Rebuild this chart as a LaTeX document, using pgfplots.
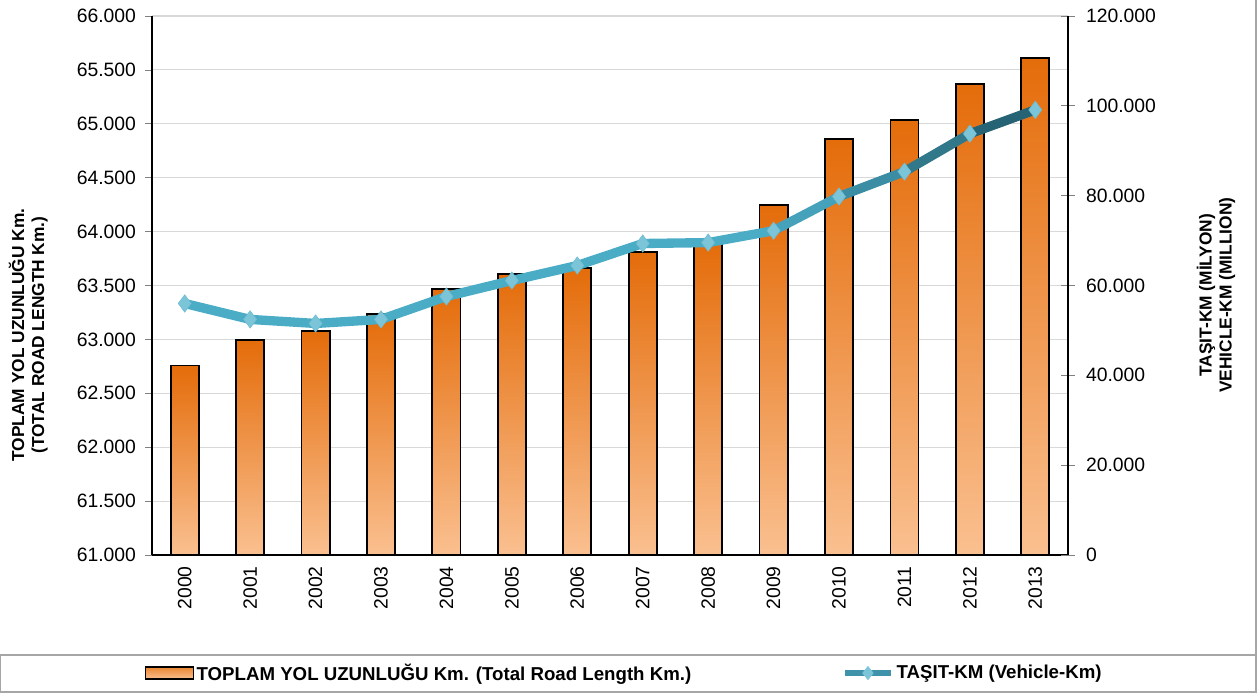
\documentclass[border=0pt]{standalone}
\usepackage{pgfplots}
\usepackage{pgfplotstable}
\pgfplotsset{compat=1.18}
\usepackage{fontspec}
\setmainfont{Liberation Sans}
\definecolor{barTop}{HTML}{E46C0A}
\definecolor{barBot}{HTML}{FAC090}
\definecolor{lineLight}{HTML}{4BACC6}
\definecolor{lineDark}{HTML}{215968}
\definecolor{markFill}{HTML}{7CC4D8}
\definecolor{gridc}{HTML}{D9D9D9}

% total road length (km)
\pgfplotstableread{
x len
0 62758
1 62994
2 63078
3 63236
4 63468
5 63607
6 63662
7 63811
8 63904
9 64247
10 64859
11 65035
12 65369
13 65610
}\roadtable

% vehicle-km (million)
\pgfplotstableread{
x vkm
0 56000
1 52450
2 51550
3 52450
4 57550
5 61100
6 64450
7 69350
8 69550
9 72200
10 79800
11 85350
12 93800
13 99100
}\vkmtable

\begin{document}
\begin{tikzpicture}
\useasboundingbox (0,0) rectangle (945pt,-523.5pt);
% legend frame and right border
\draw[gray!70, line width=1.1pt] (0,-491.25pt) rectangle (942pt,-519pt);
\draw[gray!70, line width=1.1pt] (942pt,0) -- (942pt,-491.25pt);

\pgfplotsset{
  every axis/.append style={
    at={(114pt,-416.25pt)}, anchor=south west,
    width=687pt, height=404.25pt, scale only axis,
    xmin=-0.5, xmax=13.5,
    tick label style={font=\fontsize{14.5}{16}\selectfont},
    /pgf/number format/assume math mode=true,
    /pgf/number format/1000 sep={.},
    scaled y ticks=false,
  }
}

% road length axis counts from 61.000 km, so bars start at the axis floor
\begin{axis}[
  axis x line*=bottom, axis y line*=left,
  axis line style={black, line width=0.8pt},
  ymin=0, ymax=5000, ytick distance=500,
  yticklabel={\pgfkeys{/pgf/fpu=true}\pgfmathparse{\tick+61000}%
    \pgfmathprintnumber[fixed,precision=0]{\pgfmathresult}},
  yticklabel style={xshift=-3.5pt},
  ytick style={gray, line width=0.6pt}, tick align=outside,
  major tick length=5pt,
  xtick={0,...,13},
  xticklabels={2000,2001,2002,2003,2004,2005,2006,2007,2008,2009,2010,2011,2012,2013},
  xticklabel style={rotate=90, anchor=east},
  xtick style={draw=none},
  ymajorgrids, grid style={gridc, line width=0.8pt},
  ylabel={TOPLAM YOL UZUNLUĞU Km.\\(TOTAL ROAD LENGTH Km.)},
  ylabel style={align=center, font=\bfseries\fontsize{13}{15}\selectfont,
    at={(axis description cs:-0.135,0.408)}, anchor=center},
]
% one plot per bar so each bar gets its own gradient
\pgfplotsinvokeforeach{0,...,13}{
  \addplot[ybar, bar width=0.43, bar shift=0pt, draw=black, line width=1.3pt,
    top color=barTop, bottom color=barBot,
    restrict expr to domain={\coordindex}{#1:#1}]
    table[x=x, y expr=\thisrow{len}-61000] {\roadtable};
}
\end{axis}

\begin{axis}[
  axis x line=none, axis y line*=right,
  axis line style={black, line width=0.8pt},
  ymin=0, ymax=120000, ytick distance=20000,
  yticklabel style={/pgf/number format/fixed, /pgf/number format/precision=0,
    xshift=5pt},
  ytick style={gray, line width=0.6pt}, tick align=center,
  major tick length=10pt,
  ylabel={TAŞIT-KM (MİLYON)\\VEHICLE-KM (MILLION)},
  ylabel style={align=center, font=\bfseries\fontsize{13}{15}\selectfont,
    at={(axis description cs:1.1616,0.482)}, anchor=center},
  legend columns=2,
  legend style={draw=none, fill=none, at={(axis description cs:0.5158,-0.219)},
    anchor=center, font=\bfseries\fontsize{14}{16}\selectfont,
    /tikz/every even column/.append style={column sep=111pt}},
]
\addplot[mesh, point meta=x, line width=7pt, line cap=round, forget plot,
  colormap={tl}{color(0cm)=(lineLight) color(9cm)=(lineLight) color(13cm)=(lineDark)}]
  table[x=x, y=vkm] {\vkmtable};
\addplot[only marks, mark=diamond*, mark size=6.5pt, forget plot,
  mark options={fill=markFill, draw=lineLight!80!white, line width=0.4pt}]
  table[x=x, y=vkm] {\vkmtable};
\addlegendimage{legend image code/.code={
  \draw[draw=black, line width=1pt, top color=barTop!70!barBot, bottom color=barBot]
    (0pt,-4.5pt) rectangle (36pt,4.5pt);}}
\addlegendentry{TOPLAM YOL UZUNLUĞU Km. (Total Road Length Km.)}
\addlegendimage{legend image code/.code={
  \draw[lineLight!70!lineDark, line width=5pt] (0pt,0pt) -- (34pt,0pt);
  \fill[markFill] (17pt,-5pt) -- (21pt,0pt) -- (17pt,5pt) -- (13pt,0pt) -- cycle;}}
\addlegendentry{TAŞIT-KM (Vehicle-Km)}
\end{axis}
\end{tikzpicture}
\end{document}
